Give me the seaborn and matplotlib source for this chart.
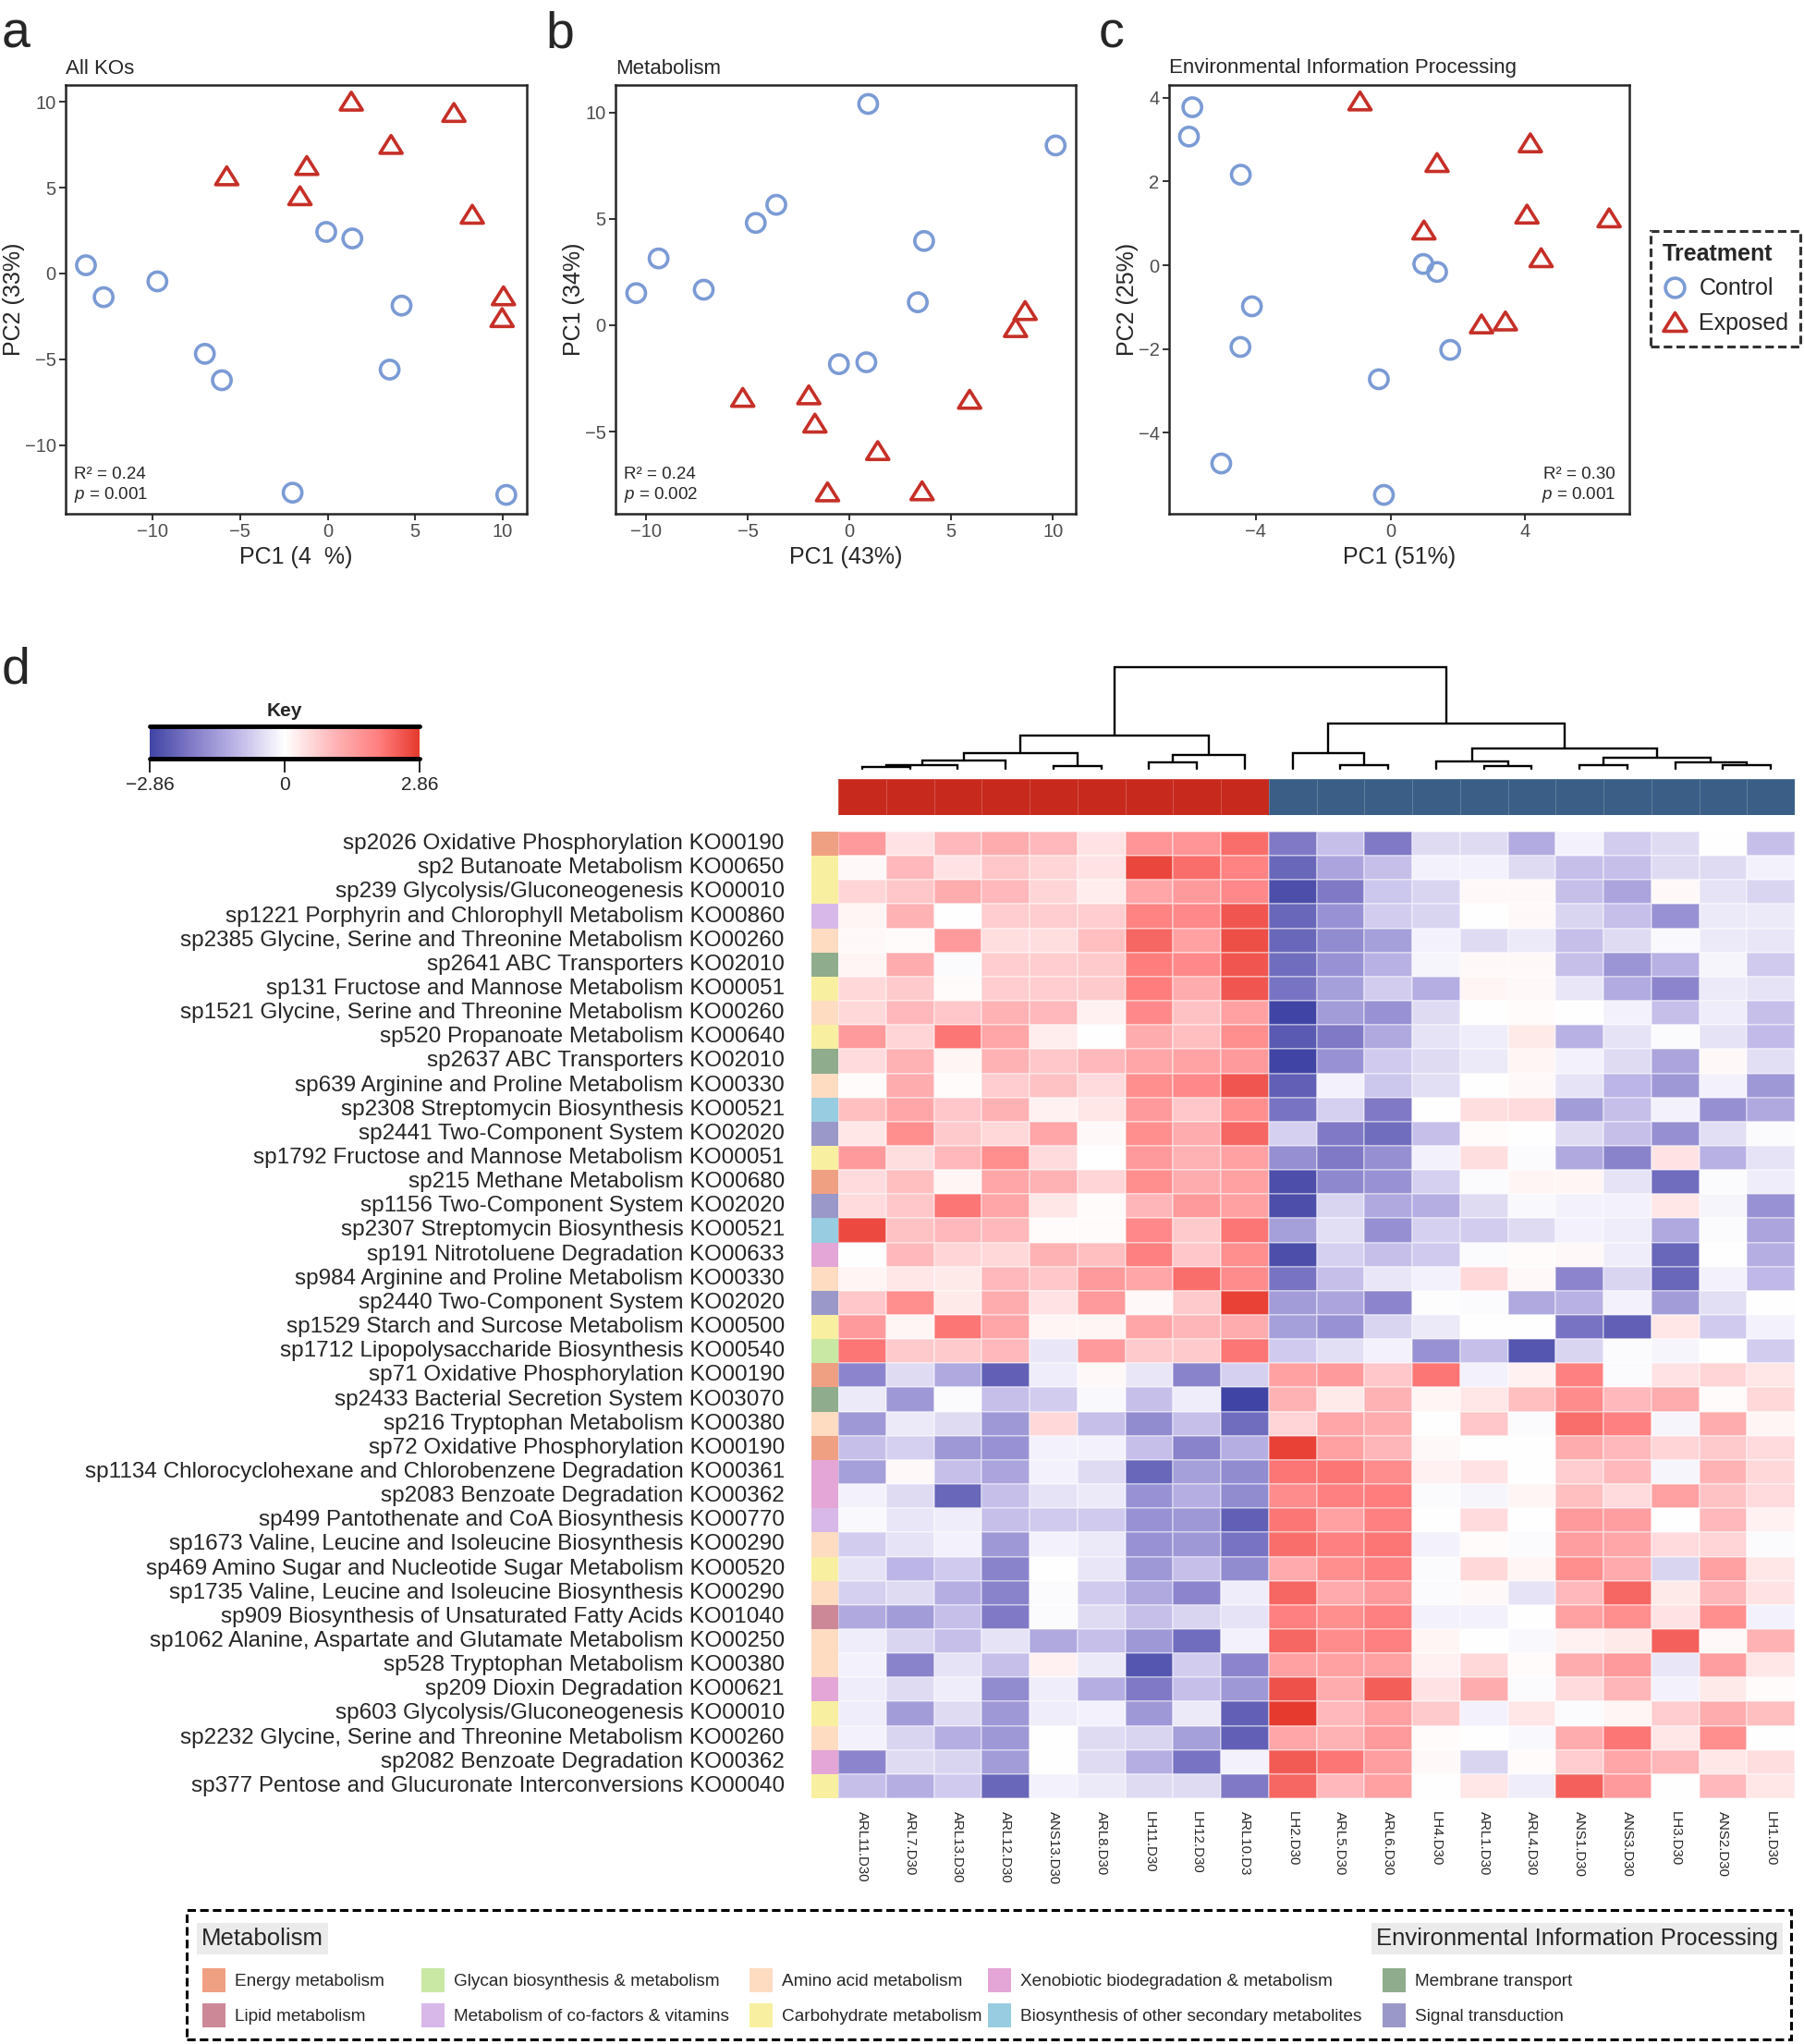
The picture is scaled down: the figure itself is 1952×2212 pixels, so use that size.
import matplotlib
matplotlib.use('Agg')
import matplotlib.pyplot as plt
from matplotlib.colors import LinearSegmentedColormap, ListedColormap
from matplotlib.lines import Line2D
from matplotlib.patches import Patch, Rectangle
from matplotlib.path import Path
import numpy as np
import pandas as pd
import seaborn as sns

# ---------------- PCA scores ----------------
a_ctrl_x = [-13.80, -12.79, -9.72, -7.01, -6.04, -0.08, 1.41, 4.22, 3.54, -2.00, 10.20]
a_ctrl_y = [0.48, -1.38, -0.46, -4.68, -6.22, 2.42, 2.04, -1.87, -5.60, -12.77, -12.90]
a_exp_x = [-5.76, -1.19, -1.58, 1.35, 3.62, 7.21, 8.26, 10.04, 9.96]
a_exp_y = [5.69, 6.29, 4.53, 10.04, 7.52, 9.38, 3.45, -1.30, -2.57]

b_ctrl_x = [0.92, 10.14, -3.60, -4.61, -9.39, -10.49, -7.17, 3.67, 3.36, -0.52, 0.83]
b_ctrl_y = [10.40, 8.45, 5.66, 4.81, 3.14, 1.51, 1.67, 3.96, 1.08, -1.83, -1.74]
b_exp_x = [8.64, 8.17, -5.25, -2.00, -1.70, 1.39, 5.91, -1.08, 3.57]
b_exp_y = [0.69, -0.11, -3.39, -3.27, -4.60, -5.89, -3.48, -7.83, -7.78]

c_ctrl_x = [-5.89, -5.99, -4.45, -4.12, -4.46, 0.97, 1.38, 1.77, -0.35, -5.03, -0.20]
c_ctrl_y = [3.77, 3.07, 2.16, -0.98, -1.95, 0.03, -0.16, -2.02, -2.72, -4.73, -5.48]
c_exp_x = [-0.91, 4.15, 1.38, 4.05, 6.49, 0.99, 4.47, 2.70, 3.41]
c_exp_y = [3.92, 2.92, 2.45, 1.22, 1.13, 0.84, 0.18, -1.40, -1.33]

# ---------------- heatmap data ----------------
col_labels = ['ARL11.D30', 'ARL7.D30', 'ARL13.D30', 'ARL12.D30', 'ANS13.D30', 'ARL8.D30',
              'LH11.D30', 'LH12.D30', 'ARL10.D3', 'LH2.D30', 'ARL5.D30', 'ARL6.D30',
              'LH4.D30', 'ARL1.D30', 'ARL4.D30', 'ANS1.D30', 'ANS3.D30', 'LH3.D30',
              'ANS2.D30', 'LH1.D30']
col_groups = ['Exposed'] * 9 + ['Control'] * 11

row_labels = [
    'sp2026 Oxidative Phosphorylation KO00190',
    'sp2 Butanoate Metabolism KO00650',
    'sp239 Glycolysis/Gluconeogenesis KO00010',
    'sp1221 Porphyrin and Chlorophyll Metabolism KO00860',
    'sp2385 Glycine, Serine and Threonine Metabolism KO00260',
    'sp2641 ABC Transporters KO02010',
    'sp131 Fructose and Mannose Metabolism KO00051',
    'sp1521 Glycine, Serine and Threonine Metabolism KO00260',
    'sp520 Propanoate Metabolism KO00640',
    'sp2637 ABC Transporters KO02010',
    'sp639 Arginine and Proline Metabolism KO00330',
    'sp2308 Streptomycin Biosynthesis KO00521',
    'sp2441 Two-Component System KO02020',
    'sp1792 Fructose and Mannose Metabolism KO00051',
    'sp215 Methane Metabolism KO00680',
    'sp1156 Two-Component System KO02020',
    'sp2307 Streptomycin Biosynthesis KO00521',
    'sp191 Nitrotoluene Degradation KO00633',
    'sp984 Arginine and Proline Metabolism KO00330',
    'sp2440 Two-Component System KO02020',
    'sp1529 Starch and Surcose Metabolism KO00500',
    'sp1712 Lipopolysaccharide Biosynthesis KO00540',
    'sp71 Oxidative Phosphorylation KO00190',
    'sp2433 Bacterial Secretion System KO03070',
    'sp216 Tryptophan Metabolism KO00380',
    'sp72 Oxidative Phosphorylation KO00190',
    'sp1134 Chlorocyclohexane and Chlorobenzene Degradation KO00361',
    'sp2083 Benzoate Degradation KO00362',
    'sp499 Pantothenate and CoA Biosynthesis KO00770',
    'sp1673 Valine, Leucine and Isoleucine Biosynthesis KO00290',
    'sp469 Amino Sugar and Nucleotide Sugar Metabolism KO00520',
    'sp1735 Valine, Leucine and Isoleucine Biosynthesis KO00290',
    'sp909 Biosynthesis of Unsaturated Fatty Acids KO01040',
    'sp1062 Alanine, Aspartate and Glutamate Metabolism KO00250',
    'sp528 Tryptophan Metabolism KO00380',
    'sp209 Dioxin Degradation KO00621',
    'sp603 Glycolysis/Gluconeogenesis KO00010',
    'sp2232 Glycine, Serine and Threonine Metabolism KO00260',
    'sp2082 Benzoate Degradation KO00362',
    'sp377 Pentose and Glucuronate Interconversions KO00040',
]

row_cats = ['Energy', 'Carb', 'Carb', 'Cofac', 'Amino', 'Membrane', 'Carb', 'Amino', 'Carb',
            'Membrane', 'Amino', 'Secondary', 'Signal', 'Carb', 'Energy', 'Signal', 'Secondary',
            'Xeno', 'Amino', 'Signal', 'Carb', 'Glycan', 'Energy', 'Membrane', 'Amino', 'Energy',
            'Xeno', 'Xeno', 'Cofac', 'Amino', 'Carb', 'Amino', 'Lipid', 'Amino', 'Amino', 'Xeno',
            'Carb', 'Amino', 'Xeno', 'Carb']

heat_values = [
    [1.5, 0.4, 1.0, 1.2, 1.0, 0.4, 1.6, 1.6, 2.2, -2.0, -0.9, -2.0, -0.5, -0.5, -1.2, -0.2, -0.7, -0.5, 0.0, -0.9],
    [0.1, 1.0, 0.4, 0.8, 0.6, 0.4, 2.7, 2.2, 1.9, -2.3, -1.3, -0.9, -0.2, -0.2, -0.5, -0.9, -0.9, -0.5, -0.5, -0.2],
    [0.6, 0.8, 1.2, 1.0, 0.6, 0.25, 1.3, 1.5, 1.8, -2.7, -2.0, -0.8, -0.6, 0.1, 0.1, -0.9, -1.3, 0.1, -0.4, -0.6],
    [0.15, 1.1, 0.0, 0.7, 0.7, 0.7, 1.9, 1.8, 2.5, -2.3, -1.6, -0.7, -0.6, 0.0, 0.1, -0.6, -0.9, -1.6, -0.3, -0.3],
    [0.1, 0.05, 1.5, 0.45, 0.45, 0.9, 2.3, 1.4, 2.6, -2.3, -1.7, -1.4, -0.2, -0.5, -0.3, -0.9, -0.5, -0.1, -0.3, -0.35],
    [0.15, 1.2, -0.05, 0.7, 0.7, 0.75, 2.0, 1.8, 2.5, -2.2, -1.6, -1.1, -0.15, 0.1, 0.1, -0.9, -1.55, -1.1, -0.15, -0.75],
    [0.55, 0.75, 0.05, 0.7, 0.7, 0.75, 2.0, 1.2, 2.5, -2.1, -1.4, -0.7, -1.15, 0.15, 0.1, -0.35, -1.2, -1.8, -0.3, -0.4],
    [0.55, 1.0, 0.8, 1.1, 1.0, 0.2, 1.8, 0.85, 1.4, -2.85, -1.45, -1.6, -0.5, 0.0, 0.05, 0.0, -0.2, -0.9, -0.25, -0.9],
    [1.5, 0.6, 2.1, 1.3, 0.25, 0.0, 1.2, 0.9, 1.7, -2.5, -2.0, -1.25, -0.4, -0.25, 0.3, -1.1, -0.4, -0.05, -0.4, -0.95],
    [0.5, 1.1, 0.15, 1.1, 0.8, 1.0, 1.3, 1.35, 1.5, -2.85, -1.6, -0.75, -0.5, -0.3, 0.15, -0.2, -0.5, -1.3, 0.1, -0.45],
    [0.05, 1.2, 0.05, 0.7, 0.85, 0.5, 1.7, 1.8, 2.5, -2.4, -0.2, -0.8, -0.45, 0.0, 0.1, -0.4, -1.05, -1.5, -0.2, -1.5],
    [0.9, 1.3, 0.8, 1.1, 0.2, 0.35, 1.5, 0.8, 1.7, -2.1, -0.65, -2.0, 0.0, 0.45, 0.5, -1.45, -0.9, -0.2, -1.65, -1.25],
    [0.35, 1.7, 0.75, 0.55, 1.3, 0.1, 1.7, 1.2, 2.3, -0.65, -2.0, -2.2, -0.9, 0.05, 0.0, -0.5, -0.9, -1.65, -0.45, -0.05],
    [1.5, 0.45, 1.0, 1.7, 0.5, 0.0, 1.5, 1.1, 1.4, -1.65, -2.0, -1.65, -0.2, 0.45, -0.05, -1.25, -1.85, 0.4, -1.1, -0.4],
    [0.5, 0.9, 0.15, 1.3, 1.1, 0.6, 1.7, 1.2, 1.4, -2.7, -1.75, -1.6, -0.65, -0.05, 0.15, 0.15, -0.4, -2.2, -0.05, -0.25],
    [0.5, 0.8, 2.1, 1.3, 0.35, 0.05, 1.05, 1.5, 1.4, -2.7, -0.6, -1.25, -1.15, -0.5, -0.1, -0.2, -0.2, 0.35, -0.15, -1.6],
    [2.65, 0.85, 1.0, 1.0, 0.05, 0.05, 1.8, 0.75, 2.1, -1.4, -0.45, -1.65, -0.65, -0.7, -0.5, -0.2, -0.25, -1.25, -0.05, -1.3],
    [0.0, 1.0, 0.6, 0.55, 1.1, 0.9, 1.95, 0.8, 1.7, -2.7, -0.65, -0.9, -0.75, -0.05, 0.05, 0.1, -0.25, -2.3, 0.0, -1.15],
    [0.15, 0.35, 0.3, 1.0, 0.8, 1.5, 1.3, 2.2, 1.75, -2.1, -0.9, -0.35, -0.2, 0.55, 0.1, -1.8, -0.6, -2.3, -0.2, -1.0],
    [0.8, 1.7, 0.3, 1.2, 0.4, 1.5, 0.1, 0.75, 2.75, -1.45, -1.3, -1.8, -0.03, -0.05, -1.25, -1.1, -0.2, -1.45, -0.45, 0.0],
    [1.5, 0.15, 2.1, 1.3, 0.15, 0.15, 1.3, 1.05, 1.2, -1.4, -1.6, -0.6, -0.3, 0.0, 0.0, -2.1, -2.4, 0.35, -0.75, -0.2],
    [2.1, 0.75, 0.75, 1.0, -0.35, 1.5, 0.75, 0.75, 2.1, -0.75, -0.45, -0.2, -1.6, -0.9, -2.55, -0.6, -0.05, -0.15, 0.0, -0.7],
    [-1.8, -0.5, -1.25, -2.4, -0.25, 0.1, -0.35, -1.85, -0.65, 1.4, 1.5, 0.8, 2.1, -0.2, 0.2, 1.95, -0.05, 0.4, 0.6, 0.35],
    [-0.3, -1.5, -0.05, -0.9, -0.7, -0.1, -0.9, -0.25, -2.9, 1.1, 0.3, 1.1, 0.15, 0.35, 0.9, 1.75, 1.0, 1.2, 0.05, 0.55],
    [-1.5, -0.3, -0.5, -1.5, 0.55, -0.9, -1.7, -0.9, -2.2, 0.6, 1.3, 1.2, 0.0, 0.8, -0.05, 2.2, 1.95, -0.15, 1.2, 0.15],
    [-0.9, -0.65, -1.5, -1.6, -0.2, -0.2, -0.9, -1.85, -1.15, 2.75, 1.4, 1.05, 0.1, 0.0, 0.0, 1.2, 1.0, 0.6, 0.75, 0.5],
    [-1.4, 0.1, -0.9, -1.3, -0.2, -0.5, -2.3, -1.4, -1.7, 2.1, 2.1, 1.75, 0.2, 0.4, 0.0, 0.7, 1.0, -0.15, 1.1, 0.55],
    [-0.2, -0.5, -2.3, -0.9, -0.4, -0.3, -1.6, -1.15, -1.7, 1.75, 1.95, 2.0, -0.05, -0.15, 0.15, 0.9, 0.5, 1.4, 0.85, 0.5],
    [-0.1, -0.35, -0.25, -0.9, -0.75, -0.75, -1.6, -1.5, -2.4, 2.1, 1.4, 1.95, 0.0, 0.5, 0.0, 1.5, 1.45, 0.0, 1.0, 0.2],
    [-0.7, -0.4, -0.2, -1.5, -0.2, -0.3, -1.6, -1.5, -2.1, 2.2, 1.95, 2.1, -0.2, 0.05, -0.05, 1.45, 1.3, 0.5, 0.6, -0.05],
    [-0.4, -1.05, -0.75, -1.85, 0.0, -0.35, -1.5, -0.9, -1.7, 1.25, 1.7, 1.95, -0.05, 0.55, 0.15, 1.7, 1.25, -0.6, 1.4, 0.35],
    [-0.65, -0.5, -1.15, -1.85, -0.05, -0.75, -1.25, -1.8, -0.25, 2.3, 1.25, 1.5, -0.05, 0.1, -0.4, 1.0, 2.3, 0.3, 1.05, 0.4],
    [-1.25, -1.45, -0.9, -2.0, -0.05, -0.5, -0.9, -0.6, -0.4, 1.95, 1.7, 1.95, -0.2, -0.2, 0.0, 1.4, 1.7, 0.4, 1.7, -0.2],
    [-0.25, -0.6, -0.9, -0.4, -1.25, -0.9, -1.5, -2.2, -0.2, 2.3, 1.75, 1.95, 0.15, 0.0, -0.1, 0.2, 0.3, 2.35, 0.1, 1.1],
    [-0.2, -1.85, -0.4, -0.9, 0.2, -0.3, -2.55, -0.7, -1.8, 1.4, 1.4, 1.4, 0.2, 0.55, 0.05, 1.2, 1.5, -0.35, 1.45, 0.35],
    [-0.25, -0.5, -0.25, -1.7, -0.25, -1.15, -2.0, -0.9, -1.5, 2.55, 1.2, 2.4, 0.4, 1.2, -0.05, 0.5, 1.05, -0.2, 0.3, 0.05],
    [-0.25, -1.45, -0.5, -1.5, -0.25, -0.2, -1.5, -0.3, -2.4, 2.85, 1.0, 1.4, 0.75, -0.2, 0.35, -0.05, 0.15, 0.7, 1.2, 0.9],
    [-0.2, -0.6, -1.15, -1.5, 0.0, -0.5, -0.6, -1.4, -2.4, 1.3, 1.1, 1.5, 0.05, 0.0, -0.1, 1.2, 2.1, 0.35, 1.7, 0.0],
    [-1.8, -0.5, -0.6, -1.45, 0.0, -0.5, -1.15, -2.1, -0.2, 2.45, 2.1, 1.45, 0.1, -0.6, 0.05, 0.7, 1.3, 1.05, 0.35, 0.45],
    [-0.9, -1.15, -0.75, -2.3, -0.2, -0.3, -0.5, -0.5, -2.0, 2.3, 1.0, 1.4, 0.0, 0.35, -0.25, 2.35, 1.5, 0.0, 1.0, 0.35],
]

# column dendrogram: (child a, child b, merge height); ids >= 20 are earlier merges
dendro_merges = [
    (0, 1, 5), (20, 2, 12), (21, 3, 28), (4, 5, 9), (22, 23, 50),
    (6, 7, 20), (25, 8, 45), (24, 26, 108),
    (10, 11, 12), (9, 28, 50), (13, 14, 8), (12, 30, 25), (15, 16, 12),
    (18, 19, 12), (17, 33, 20), (32, 34, 35), (31, 35, 67), (29, 36, 147),
    (27, 37, 328),
]

# category legend
cat_keys = ['Energy', 'Lipid', 'Glycan', 'Cofac', 'Amino', 'Carb', 'Xeno', 'Secondary',
            'Membrane', 'Signal']
cat_names = ['Energy metabolism', 'Lipid metabolism', 'Glycan biosynthesis & metabolism',
             'Metabolism of co-factors & vitamins', 'Amino acid metabolism',
             'Carbohydrate metabolism', 'Xenobiotic biodegradation & metabolism',
             'Biosynthesis of other secondary metabolites', 'Membrane transport',
             'Signal transduction']
cat_colors = ['#f0a082', '#cc8897', '#c8e8a4', '#d8b8e8', '#fddcc2', '#f8f0a0', '#e4a6d6',
              '#98cce0', '#8fac8c', '#9a98c8']

treat_colors = {'Control': '#7b9bd5', 'Exposed': '#c62f27'}
group_colors = ['#c8291d', '#3a5e86']

# ---------------- style ----------------
sns.set_style('ticks')
plt.rcParams['font.family'] = ['Liberation Sans', 'DejaVu Sans']
plt.rcParams['mathtext.fontset'] = 'custom'
plt.rcParams['mathtext.it'] = 'Liberation Sans:italic'
plt.rcParams['mathtext.rm'] = 'Liberation Sans'

W, H = 1952, 2212


def box(x0, y0, x1, y1):
    return [x0 / W, 1 - y1 / H, (x1 - x0) / W, (y1 - y0) / H]


fig = plt.figure(figsize=(W / 100, H / 100), dpi=100)

# open triangle, a bit wider than tall
tri = Path([(-1, -0.8), (1, -0.8), (0, 0.8), (-1, -0.8)],
           [Path.MOVETO, Path.LINETO, Path.LINETO, Path.CLOSEPOLY])


def pca_panel(rect, title, ctrl_x, ctrl_y, exp_x, exp_y, xlabel, ylabel, xlim, ylim,
              xticks, yticks, stats, right=False):
    ax = fig.add_axes(rect)
    df = pd.DataFrame({'PC1': ctrl_x + exp_x, 'PC2': ctrl_y + exp_y,
                       'Treatment': ['Control'] * len(ctrl_x) + ['Exposed'] * len(exp_x)})
    sns.scatterplot(data=df, x='PC1', y='PC2', hue='Treatment', style='Treatment',
                    size='Treatment', sizes={'Control': 210, 'Exposed': 300},
                    palette=treat_colors, markers={'Control': 'o', 'Exposed': tri},
                    legend=False, ax=ax, zorder=3)
    coll = ax.collections[0]
    coll.set_edgecolors(coll.get_facecolors())
    coll.set_facecolors('none')
    coll.set_linewidths(2.6)
    ax.set_xlim(xlim)
    ax.set_ylim(ylim)
    ax.set_xticks(xticks)
    ax.set_yticks(yticks)
    ax.set_xlabel(xlabel, fontsize=18, labelpad=4)
    ax.set_ylabel(ylabel, fontsize=18, labelpad=0)
    ax.set_title(title, loc='left', fontsize=16, pad=9)
    ax.tick_params(length=5, width=1.4, labelsize=14.5, labelcolor='#4d4d4d', color='#333333', pad=2.5)
    for sp in ax.spines.values():
        sp.set_visible(True)
        sp.set_linewidth(1.8)
        sp.set_color('#262626')
    xt = 0.97 if right else 0.018
    ha = 'right' if right else 'left'
    ax.text(xt, 0.082, 'R² = ' + stats[0], transform=ax.transAxes, ha=ha, fontsize=13.5)
    ax.text(xt, 0.034, '$p$ = ' + stats[1], transform=ax.transAxes, ha=ha, fontsize=13.5)
    return ax


pca_panel(box(71, 92, 570, 556), 'All KOs', a_ctrl_x, a_ctrl_y, a_exp_x, a_exp_y,
          'PC1 (4  %)', 'PC2 (33%)', (-14.96, 11.37), (-14.0, 10.98),
          [-10, -5, 0, 5, 10], [-10, -5, 0, 5, 10], ('0.24', '0.001'))
pca_panel(box(666, 92, 1164, 556), 'Metabolism', b_ctrl_x, b_ctrl_y, b_exp_x, b_exp_y,
          'PC1 (43%)', 'PC1 (34%)', (-11.51, 11.13), (-8.86, 11.29),
          [-10, -5, 0, 5, 10], [-5, 0, 5, 10], ('0.24', '0.002'))
pca_panel(box(1265, 92, 1763, 556), 'Environmental Information Processing',
          c_ctrl_x, c_ctrl_y, c_exp_x, c_exp_y,
          'PC1 (51%)', 'PC2 (25%)', (-6.58, 7.09), (-5.93, 4.30),
          [-4, 0, 4], [-4, -2, 0, 2, 4], ('0.30', '0.001'), right=True)

# treatment legend
handles = [Line2D([], [], marker='o', ls='none', mfc='none', mec=treat_colors['Control'],
                  mew=2.6, ms=15),
           Line2D([], [], marker=tri, ls='none', mfc='none', mec=treat_colors['Exposed'],
                  mew=2.6, ms=18)]
leg = fig.legend(handles, ['Control', 'Exposed'], title='Treatment', loc='upper left',
                 bbox_to_anchor=(1786 / W, 1 - 250 / H), fontsize=18,
                 title_fontproperties={'weight': 'bold', 'size': 18}, frameon=True,
                 fancybox=False, edgecolor='black', handletextpad=0.5, borderpad=0.5,
                 labelspacing=0.55, alignment='left', handlelength=1.1, borderaxespad=0)
leg.get_frame().set_linestyle((0, (3, 1.5)))
leg.get_frame().set_linewidth(2.2)

# panel letters
for x, y, s in [(2, 52, 'a'), (590, 52, 'b'), (1189, 52, 'c'), (2, 740, 'd')]:
    fig.text(x / W, 1 - y / H, s, fontsize=40, va='baseline', ha='left')

# ---------------- heatmap ----------------
vmax = 2.86
heat_cmap = LinearSegmentedColormap.from_list(
    'key', [(0.0, '#4044a4'), (0.150, '#7f79c6'), (0.325, '#bfb8e8'), (0.5, '#ffffff'),
            (0.675, '#ffb8bb'), (0.850, '#ff7e7e'), (1.0, '#e63a2e')])

ax_hm = fig.add_axes(box(907, 900, 1942, 1946))
ax_key = fig.add_axes(box(162, 786, 454, 821))
heat_df = pd.DataFrame(heat_values, index=row_labels, columns=col_labels)
sns.heatmap(heat_df, ax=ax_hm, cmap=heat_cmap, vmin=-vmax, vmax=vmax, cbar=True,
            cbar_ax=ax_key, cbar_kws={'orientation': 'horizontal', 'ticks': [-vmax, 0, vmax]},
            xticklabels=True, yticklabels=False, linewidths=0.3, linecolor=(1, 1, 1, 0.35))
ax_hm.set_xticklabels(col_labels, rotation=-90, fontsize=10.8)
ax_hm.tick_params(axis='x', length=0, pad=10)
ax_hm.set_xlabel('')
ax_hm.set_ylabel('')

cbar = ax_hm.collections[0].colorbar
cbar.outline.set_visible(False)
ax_key.axhline(1, color='black', lw=3.5, clip_on=False)
ax_key.axhline(0, color='black', lw=3.5, clip_on=False)
ax_key.set_xticklabels(['\u22122.86', '0', '2.86'])
ax_key.tick_params(axis='x', length=11, width=1.2, direction='out', labelsize=15, pad=3,
                   color='black')
ax_key.set_title('Key', fontsize=15, fontweight='bold', pad=8)

# row category strip
ax_rs = fig.add_axes(box(878, 900, 907, 1946))
row_codes = pd.DataFrame({'cat': [cat_keys.index(c) for c in row_cats]}, index=row_labels)
sns.heatmap(row_codes, ax=ax_rs, cmap=ListedColormap(cat_colors), vmin=-0.5,
            vmax=len(cat_keys) - 0.5, cbar=False, xticklabels=False, yticklabels=True)
ax_rs.tick_params(axis='y', length=0, pad=21, labelsize=17.5, rotation=0)
ax_rs.set_ylabel('')

# column group strip
ax_cs = fig.add_axes(box(907, 843, 1942, 882))
col_codes = pd.DataFrame([[0 if g == 'Exposed' else 1 for g in col_groups]], columns=col_labels)
sns.heatmap(col_codes, ax=ax_cs, cmap=ListedColormap(group_colors), vmin=-0.5, vmax=1.5,
            cbar=False, xticklabels=False, yticklabels=False, linewidths=0.6,
            linecolor=(1, 1, 1, 0.2))

# column dendrogram
ax_dn = fig.add_axes(box(907, 715, 1942, 832))
node_x = {i: i + 0.5 for i in range(len(col_labels))}
node_h = {i: 0 for i in range(len(col_labels))}
for k, (a, b, h) in enumerate(dendro_merges):
    xa, xb = node_x[a], node_x[b]
    ax_dn.plot([xa, xa, xb, xb], [node_h[a], h, h, node_h[b]], color='black', lw=1.7,
               solid_joinstyle='miter', clip_on=False)
    node_x[len(col_labels) + k] = (xa + xb) / 2
    node_h[len(col_labels) + k] = h
ax_dn.set_xlim(0, len(col_labels))
ax_dn.set_ylim(0, 328 * 117 / 110)
ax_dn.axis('off')

# ---------------- category legend ----------------
ax_leg = fig.add_axes(box(202, 2067, 1938, 2207))
ax_leg.axis('off')
ax_leg.add_patch(Rectangle((0, 0), 1, 1, transform=ax_leg.transAxes, fill=False,
                           ls=(0, (3, 1.5)), lw=2.2, ec='black', clip_on=False))
legend_cols_x = [219, 456, 811, 1069, 1496]
for j, xj in enumerate(legend_cols_x):
    idx = [2 * j, 2 * j + 1]
    fig.legend([Patch(facecolor=cat_colors[i], edgecolor='none') for i in idx],
               [cat_names[i] for i in idx], loc='upper left',
               bbox_to_anchor=(xj / W, 1 - 2130 / H), fontsize=13.7, frameon=False,
               handlelength=1.3, handleheight=1.75, handletextpad=0.55,
               labelspacing=0.6, borderpad=0, borderaxespad=0)
fig.text(218 / W, 1 - 2098 / H, 'Metabolism', fontsize=18.5, va='center', ha='left',
         bbox=dict(boxstyle='square,pad=0.2', fc='#ebebeb', ec='none'))
fig.text(1924 / W, 1 - 2098 / H, 'Environmental Information Processing', fontsize=18.5,
         va='center', ha='right', bbox=dict(boxstyle='square,pad=0.2', fc='#ebebeb', ec='none'))

fig.savefig('out.png', dpi=100)
